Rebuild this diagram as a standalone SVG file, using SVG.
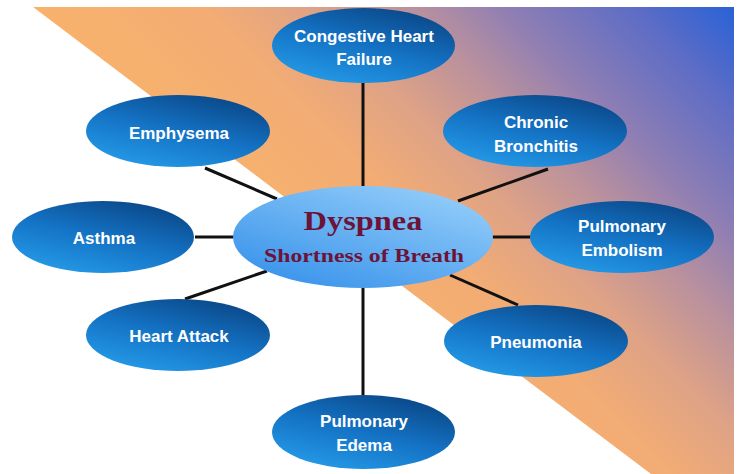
<svg xmlns="http://www.w3.org/2000/svg" width="739" height="474" viewBox="0 0 739 474">
  <defs>
    <linearGradient id="bg" gradientUnits="userSpaceOnUse" x1="734" y1="7" x2="380" y2="361">
      <stop offset="0" stop-color="#2862d6"/>
      <stop offset="0.14" stop-color="#5c6cc6"/>
      <stop offset="0.32" stop-color="#8e7eb4"/>
      <stop offset="0.45" stop-color="#b8909e"/>
      <stop offset="0.6" stop-color="#dea286"/>
      <stop offset="0.75" stop-color="#f2ac74"/>
      <stop offset="1" stop-color="#f8b26c"/>
    </linearGradient>
    <linearGradient id="nodeG" x1="0.2" y1="1" x2="0.8" y2="0">
      <stop offset="0" stop-color="#259ce9"/>
      <stop offset="0.5" stop-color="#1472c4"/>
      <stop offset="1" stop-color="#0a4584"/>
    </linearGradient>
    <linearGradient id="centerG" x1="0.1" y1="1" x2="0.9" y2="0">
      <stop offset="0" stop-color="#3490ea"/>
      <stop offset="1" stop-color="#98d0fa"/>
    </linearGradient>
  </defs>
  <style>
    .node { fill: url(#nodeG); }
    .lbl { font-family: "Liberation Sans", Arial, sans-serif; font-weight: bold; font-size: 17px; fill: #ffffff; text-anchor: middle; }
    .conn line { stroke: #111111; stroke-width: 3; }
    .ctr { font-family: "Liberation Serif", "Times New Roman", serif; font-weight: bold; fill: #6b1438; text-anchor: middle; }
  </style>
  <rect width="739" height="474" fill="#ffffff"/>
  <polygon points="33,7 734,7 734,474 651,474" fill="url(#bg)"/>

  <g id="connectors" class="conn">
    <line x1="363" y1="82" x2="363" y2="188"/>
    <line x1="205" y1="168" x2="277" y2="199"/>
    <line x1="548" y1="169" x2="458" y2="201"/>
    <line x1="195" y1="237" x2="235" y2="237"/>
    <line x1="491" y1="237" x2="532" y2="237"/>
    <line x1="185" y1="299" x2="267" y2="271"/>
    <line x1="450" y1="275" x2="518" y2="305"/>
    <line x1="363" y1="286" x2="363" y2="396"/>
  </g>

  <g id="node-chf">
    <ellipse class="node" cx="363.5" cy="45.5" rx="91.5" ry="37.5"/>
    <text class="lbl" x="364" y="42">Congestive Heart</text>
    <text class="lbl" x="364" y="65">Failure</text>
  </g>
  <g id="node-emphysema">
    <ellipse class="node" cx="178" cy="131" rx="92" ry="36"/>
    <text class="lbl" x="179" y="139">Emphysema</text>
  </g>
  <g id="node-bronchitis">
    <ellipse class="node" cx="535" cy="131" rx="92" ry="36"/>
    <text class="lbl" x="536" y="128">Chronic</text>
    <text class="lbl" x="536" y="152">Bronchitis</text>
  </g>
  <g id="node-asthma">
    <ellipse class="node" cx="103" cy="237" rx="91" ry="36"/>
    <text class="lbl" x="104" y="244">Asthma</text>
  </g>
  <g id="node-embolism">
    <ellipse class="node" cx="622" cy="237" rx="92" ry="36"/>
    <text class="lbl" x="622" y="232">Pulmonary</text>
    <text class="lbl" x="622" y="256">Embolism</text>
  </g>
  <g id="node-heartattack">
    <ellipse class="node" cx="178" cy="335" rx="92" ry="36"/>
    <text class="lbl" x="179" y="342">Heart Attack</text>
  </g>
  <g id="node-pneumonia">
    <ellipse class="node" cx="536" cy="341" rx="92" ry="36"/>
    <text class="lbl" x="536" y="348">Pneumonia</text>
  </g>
  <g id="node-edema">
    <ellipse class="node" cx="363.5" cy="432" rx="91.5" ry="37"/>
    <text class="lbl" x="364" y="427">Pulmonary</text>
    <text class="lbl" x="364" y="451">Edema</text>
  </g>
  <g id="node-dyspnea">
    <ellipse cx="363" cy="237" rx="130" ry="51" fill="url(#centerG)"/>
    <text class="ctr" transform="translate(363,230) scale(1.2,1)" x="0" y="0" font-size="27">Dyspnea</text>
    <text class="ctr" transform="translate(364,262) scale(1.25,1)" x="0" y="0" font-size="19">Shortness of Breath</text>
  </g>
</svg>
